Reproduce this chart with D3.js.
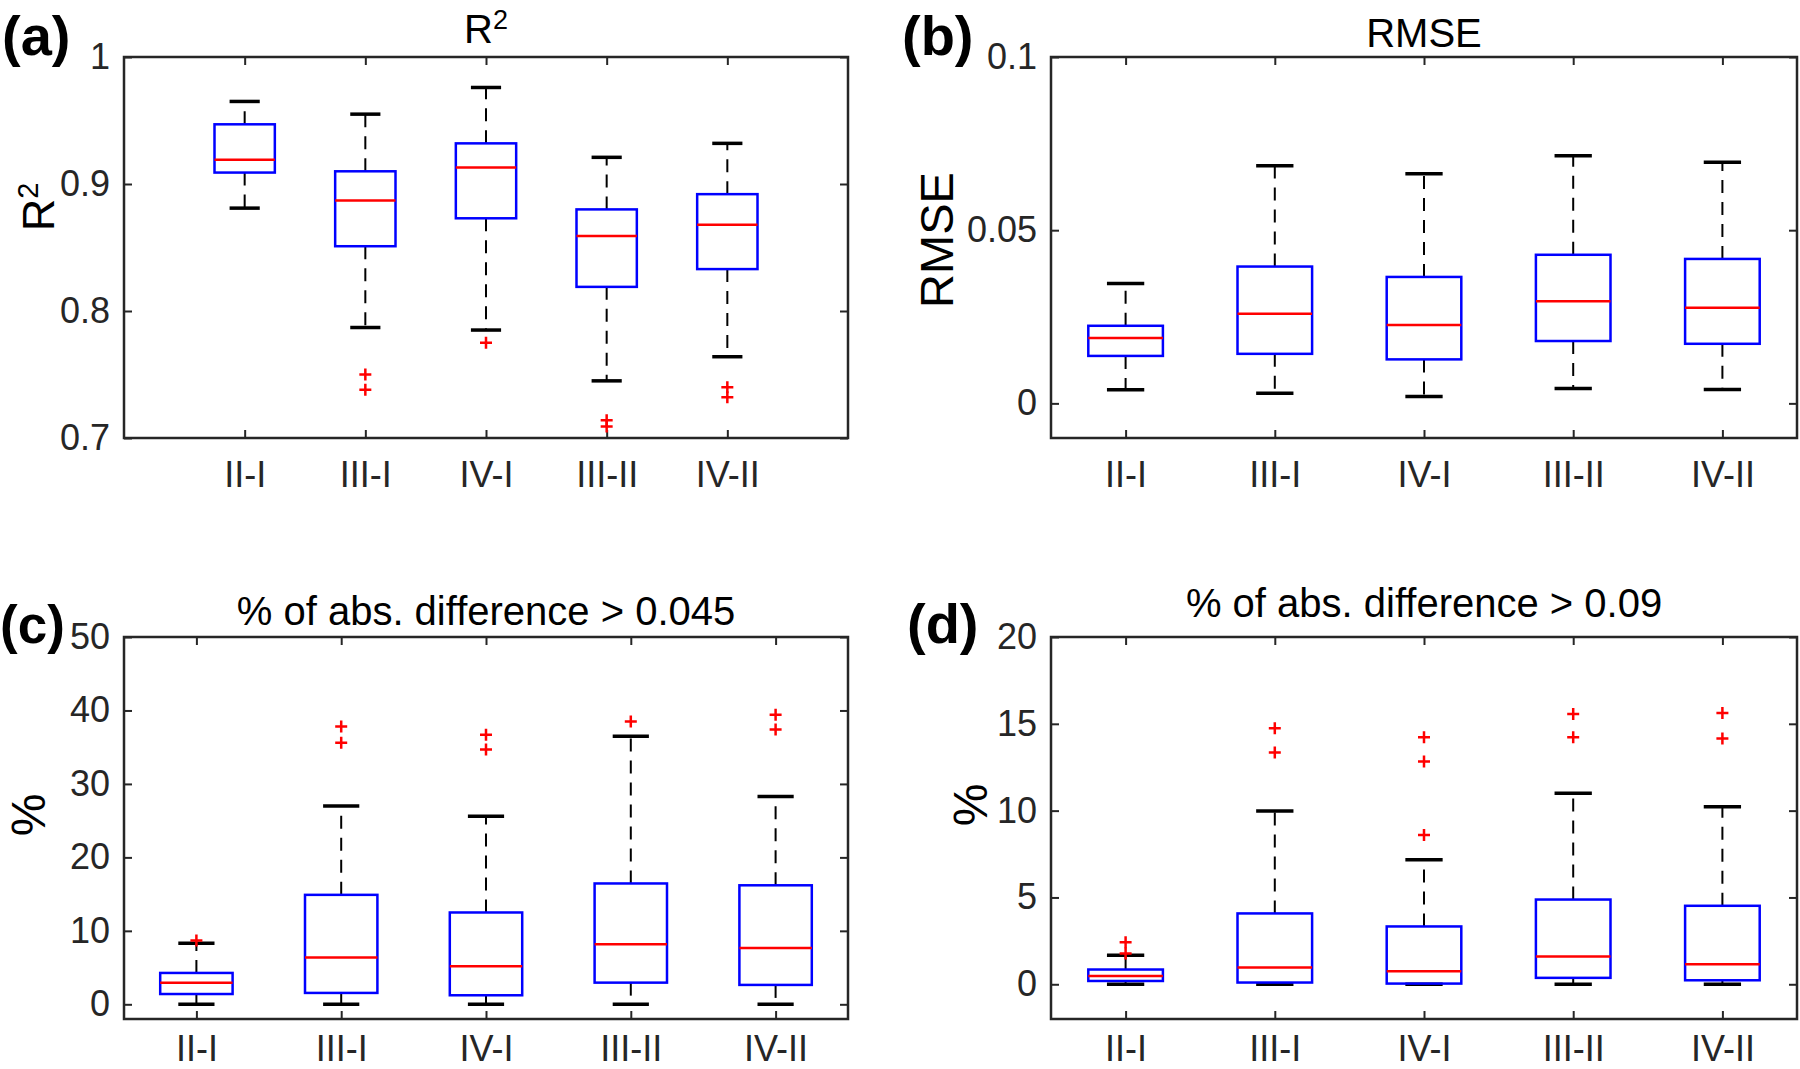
<!DOCTYPE html>
<html>
<head>
<meta charset="utf-8">
<script src="https://cdn.jsdelivr.net/npm/d3@7"></script>
<style>
  html, body { margin: 0; padding: 0; background: #ffffff; }
  svg { display: block; }
</style>
</head>
<body>
<svg id="chart" width="1800" height="1069"></svg>
<script>
// ---------------- DATA ----------------
const categories = ["II-I", "III-I", "IV-I", "III-II", "IV-II"];

// (a) R^2
const r2Low  = [0.881, 0.787, 0.785, 0.745, 0.764];
const r2Q1   = [0.909, 0.851, 0.873, 0.819, 0.833];
const r2Med  = [0.919, 0.887, 0.913, 0.859, 0.868];
const r2Q3   = [0.947, 0.910, 0.932, 0.880, 0.892];
const r2High = [0.965, 0.955, 0.976, 0.921, 0.932];
const r2Out  = [[], [0.750, 0.738], [0.775], [0.714, 0.709], [0.740, 0.732]];
const r2Ticks = [0.7, 0.8, 0.9, 1];

// (b) RMSE
const rmseLow  = [0.0039, 0.0029, 0.0020, 0.0043, 0.0040];
const rmseQ1   = [0.0137, 0.0143, 0.0127, 0.0180, 0.0172];
const rmseMed  = [0.0189, 0.0259, 0.0226, 0.0295, 0.0276];
const rmseQ3   = [0.0224, 0.0395, 0.0365, 0.0429, 0.0417];
const rmseHigh = [0.0346, 0.0686, 0.0663, 0.0715, 0.0696];
const rmseOut  = [[], [], [], [], []];
const rmseTicks = [0, 0.05, 0.1];

// (c) % of abs. difference > 0.045
const p045Low  = [0, 0, 0, 0, 0];
const p045Q1   = [1.40, 1.55, 1.23, 2.95, 2.64];
const p045Med  = [2.95, 6.36, 5.18, 8.18, 7.68];
const p045Q3   = [4.27, 14.9, 12.5, 16.45, 16.2];
const p045High = [8.3, 27.0, 25.6, 36.5, 28.3];
const p045Out  = [[8.7], [37.8, 35.6], [36.7, 34.7], [38.5], [39.4, 37.4]];
const p045Ticks = [0, 10, 20, 30, 40, 50];

// (d) % of abs. difference > 0.09
const p09Low  = [0, 0, 0, 0, 0];
const p09Q1   = [0.19, 0.10, 0.04, 0.37, 0.23];
const p09Med  = [0.48, 0.96, 0.75, 1.60, 1.15];
const p09Q3   = [0.85, 4.08, 3.33, 4.88, 4.52];
const p09High = [1.67, 9.98, 7.17, 11.0, 10.23];
const p09Out  = [[2.42, 1.77], [14.75, 13.35], [14.23, 12.83, 8.6], [15.56, 14.23], [15.63, 14.15]];
const p09Ticks = [0, 5, 10, 15, 20];

// ---------------- DRAW ----------------
const svg = d3.select("#chart");
const FONT = "'Liberation Sans', Arial, Helvetica, sans-serif";
const AX = "#262626";

function drawPanel(cfg) {
  const g = svg.append("g");
  const x = d3.scaleLinear().domain(cfg.xDomain).range([cfg.left, cfg.right]);
  const y = d3.scaleLinear().domain(cfg.yDomain).range([cfg.bottom, cfg.top]);
  const idx = categories.map((c, i) => i + 1);

  const styleAxis = sel => {
    sel.attr("font-family", FONT).attr("font-size", 36);
    sel.select(".domain").remove();
    sel.selectAll(".tick line").attr("stroke", AX).attr("stroke-width", 2);
    sel.selectAll(".tick text").attr("fill", AX);
  };
  g.append("g").attr("transform", `translate(${cfg.left},0)`)
    .call(d3.axisLeft(y).tickValues(cfg.yTicks).tickSize(-8).tickPadding(14)
      .tickFormat(d => cfg.fmt(d)))
    .call(styleAxis);
  g.append("g").attr("transform", `translate(${cfg.right},0)`)
    .call(d3.axisRight(y).tickValues(cfg.yTicks).tickSize(-8).tickFormat(""))
    .call(styleAxis);
  g.append("g").attr("transform", `translate(0,${cfg.top})`)
    .call(d3.axisTop(x).tickValues(idx).tickSize(-8).tickFormat(""))
    .call(styleAxis);
  const bx = g.append("g").attr("transform", `translate(0,${cfg.bottom})`)
    .call(d3.axisBottom(x).tickValues(idx).tickSize(-8).tickPadding(0)
      .tickFormat(d => categories[d - 1]))
    .call(styleAxis);
  bx.selectAll(".tick text").attr("dy", null).attr("y", cfg.xLabelBase - cfg.bottom);

  g.append("rect")
    .attr("x", cfg.left).attr("y", cfg.top)
    .attr("width", cfg.right - cfg.left).attr("height", cfg.bottom - cfg.top)
    .attr("fill", "none").attr("stroke", AX).attr("stroke-width", 2.5);

  const half = 0.25, capHalf = 0.125;
  const d = categories.map((c, i) => ({
    i: i + 1, low: cfg.low[i], q1: cfg.q1[i], med: cfg.med[i], q3: cfg.q3[i], high: cfg.high[i], out: cfg.out[i]
  }));

  const bg = g.selectAll(".bx").data(d).enter().append("g");
  bg.append("line")
    .attr("x1", e => x(e.i)).attr("x2", e => x(e.i))
    .attr("y1", e => y(e.q3)).attr("y2", e => y(e.high))
    .attr("stroke", "#000").attr("stroke-width", 2).attr("stroke-dasharray", "13,9");
  bg.append("line")
    .attr("x1", e => x(e.i)).attr("x2", e => x(e.i))
    .attr("y1", e => y(e.q1)).attr("y2", e => y(e.low))
    .attr("stroke", "#000").attr("stroke-width", 2).attr("stroke-dasharray", "13,9");
  bg.append("line")
    .attr("x1", e => x(e.i - capHalf)).attr("x2", e => x(e.i + capHalf))
    .attr("y1", e => y(e.high)).attr("y2", e => y(e.high))
    .attr("stroke", "#000").attr("stroke-width", 3.5);
  bg.append("line")
    .attr("x1", e => x(e.i - capHalf)).attr("x2", e => x(e.i + capHalf))
    .attr("y1", e => y(e.low)).attr("y2", e => y(e.low))
    .attr("stroke", "#000").attr("stroke-width", 3.5);
  bg.append("rect")
    .attr("x", e => x(e.i - half)).attr("width", e => x(e.i + half) - x(e.i - half))
    .attr("y", e => y(e.q3)).attr("height", e => y(e.q1) - y(e.q3))
    .attr("fill", "none").attr("stroke", "#0000ff").attr("stroke-width", 2.5);
  bg.append("line")
    .attr("x1", e => x(e.i - half)).attr("x2", e => x(e.i + half))
    .attr("y1", e => y(e.med)).attr("y2", e => y(e.med))
    .attr("stroke", "#ff0000").attr("stroke-width", 2.5);
  const pts = [];
  d.forEach(e => e.out.forEach(v => pts.push({ i: e.i, v })));
  g.selectAll(".out").data(pts).enter().append("path")
    .attr("d", p => `M${x(p.i) - 6},${y(p.v)}h12M${x(p.i)},${y(p.v) - 6}v12`)
    .attr("stroke", "#ff0000").attr("stroke-width", 2.5).attr("fill", "none");

  const t = g.append("text")
    .attr("x", (cfg.left + cfg.right) / 2).attr("y", cfg.titleBase)
    .attr("text-anchor", "middle").attr("font-family", FONT).attr("font-size", 40).attr("fill", "#000");
  t.append("tspan").text(cfg.title);
  if (cfg.titleSup) t.append("tspan").attr("font-size", 27).attr("dy", -14).text(cfg.titleSup);

  const yl = g.append("text")
    .attr("transform", `translate(${cfg.ylabX},${cfg.ylabY}) rotate(-90)`)
    .attr("text-anchor", "middle").attr("font-family", FONT).attr("font-size", cfg.ylabSize).attr("fill", "#000");
  yl.append("tspan").text(cfg.ylabel);
  if (cfg.ylabSup) yl.append("tspan").attr("font-size", 29).attr("dy", -16).text(cfg.ylabSup);

  g.append("text").attr("x", cfg.pX).attr("y", cfg.pY)
    .attr("font-family", FONT).attr("font-weight", "bold").attr("font-size", cfg.pSize || 56).attr("fill", "#000")
    .text(cfg.panel);
}

const fmtGeneral = v => String(+v.toFixed(4));

drawPanel({
  left: 124, right: 848, top: 57, bottom: 438, xDomain: [0, 6], yDomain: [0.7, 1.0],
  yTicks: r2Ticks, fmt: fmtGeneral, xLabelBase: 487,
  low: r2Low, q1: r2Q1, med: r2Med, q3: r2Q3, high: r2High, out: r2Out,
  title: "R", titleSup: "2", titleBase: 43,
  ylabel: "R", ylabSup: "2", ylabX: 54, ylabY: 207, ylabSize: 45,
  panel: "(a)", pX: 2, pY: 55
});
drawPanel({
  left: 1051, right: 1797, top: 57, bottom: 438, xDomain: [0.5, 5.5], yDomain: [-0.01, 0.1],
  yTicks: rmseTicks, fmt: fmtGeneral, xLabelBase: 487,
  low: rmseLow, q1: rmseQ1, med: rmseMed, q3: rmseQ3, high: rmseHigh, out: rmseOut,
  title: "RMSE", titleBase: 47,
  ylabel: "RMSE", ylabX: 953, ylabY: 240, ylabSize: 47,
  panel: "(b)", pX: 902, pY: 55
});
drawPanel({
  left: 124, right: 848, top: 637, bottom: 1019, xDomain: [0.5, 5.5], yDomain: [-2, 50],
  yTicks: p045Ticks, fmt: fmtGeneral, xLabelBase: 1061,
  low: p045Low, q1: p045Q1, med: p045Med, q3: p045Q3, high: p045High, out: p045Out,
  title: "% of abs. difference > 0.045", titleBase: 625,
  ylabel: "%", ylabX: 45, ylabY: 815, ylabSize: 48,
  panel: "(c)", pX: 0, pY: 643, pSize: 53
});
drawPanel({
  left: 1051, right: 1797, top: 637, bottom: 1019, xDomain: [0.5, 5.5], yDomain: [-2, 20],
  yTicks: p09Ticks, fmt: fmtGeneral, xLabelBase: 1061,
  low: p09Low, q1: p09Q1, med: p09Med, q3: p09Q3, high: p09High, out: p09Out,
  title: "% of abs. difference > 0.09", titleBase: 617,
  ylabel: "%", ylabX: 987, ylabY: 805, ylabSize: 48,
  panel: "(d)", pX: 907, pY: 643
});
</script>
</body>
</html>
